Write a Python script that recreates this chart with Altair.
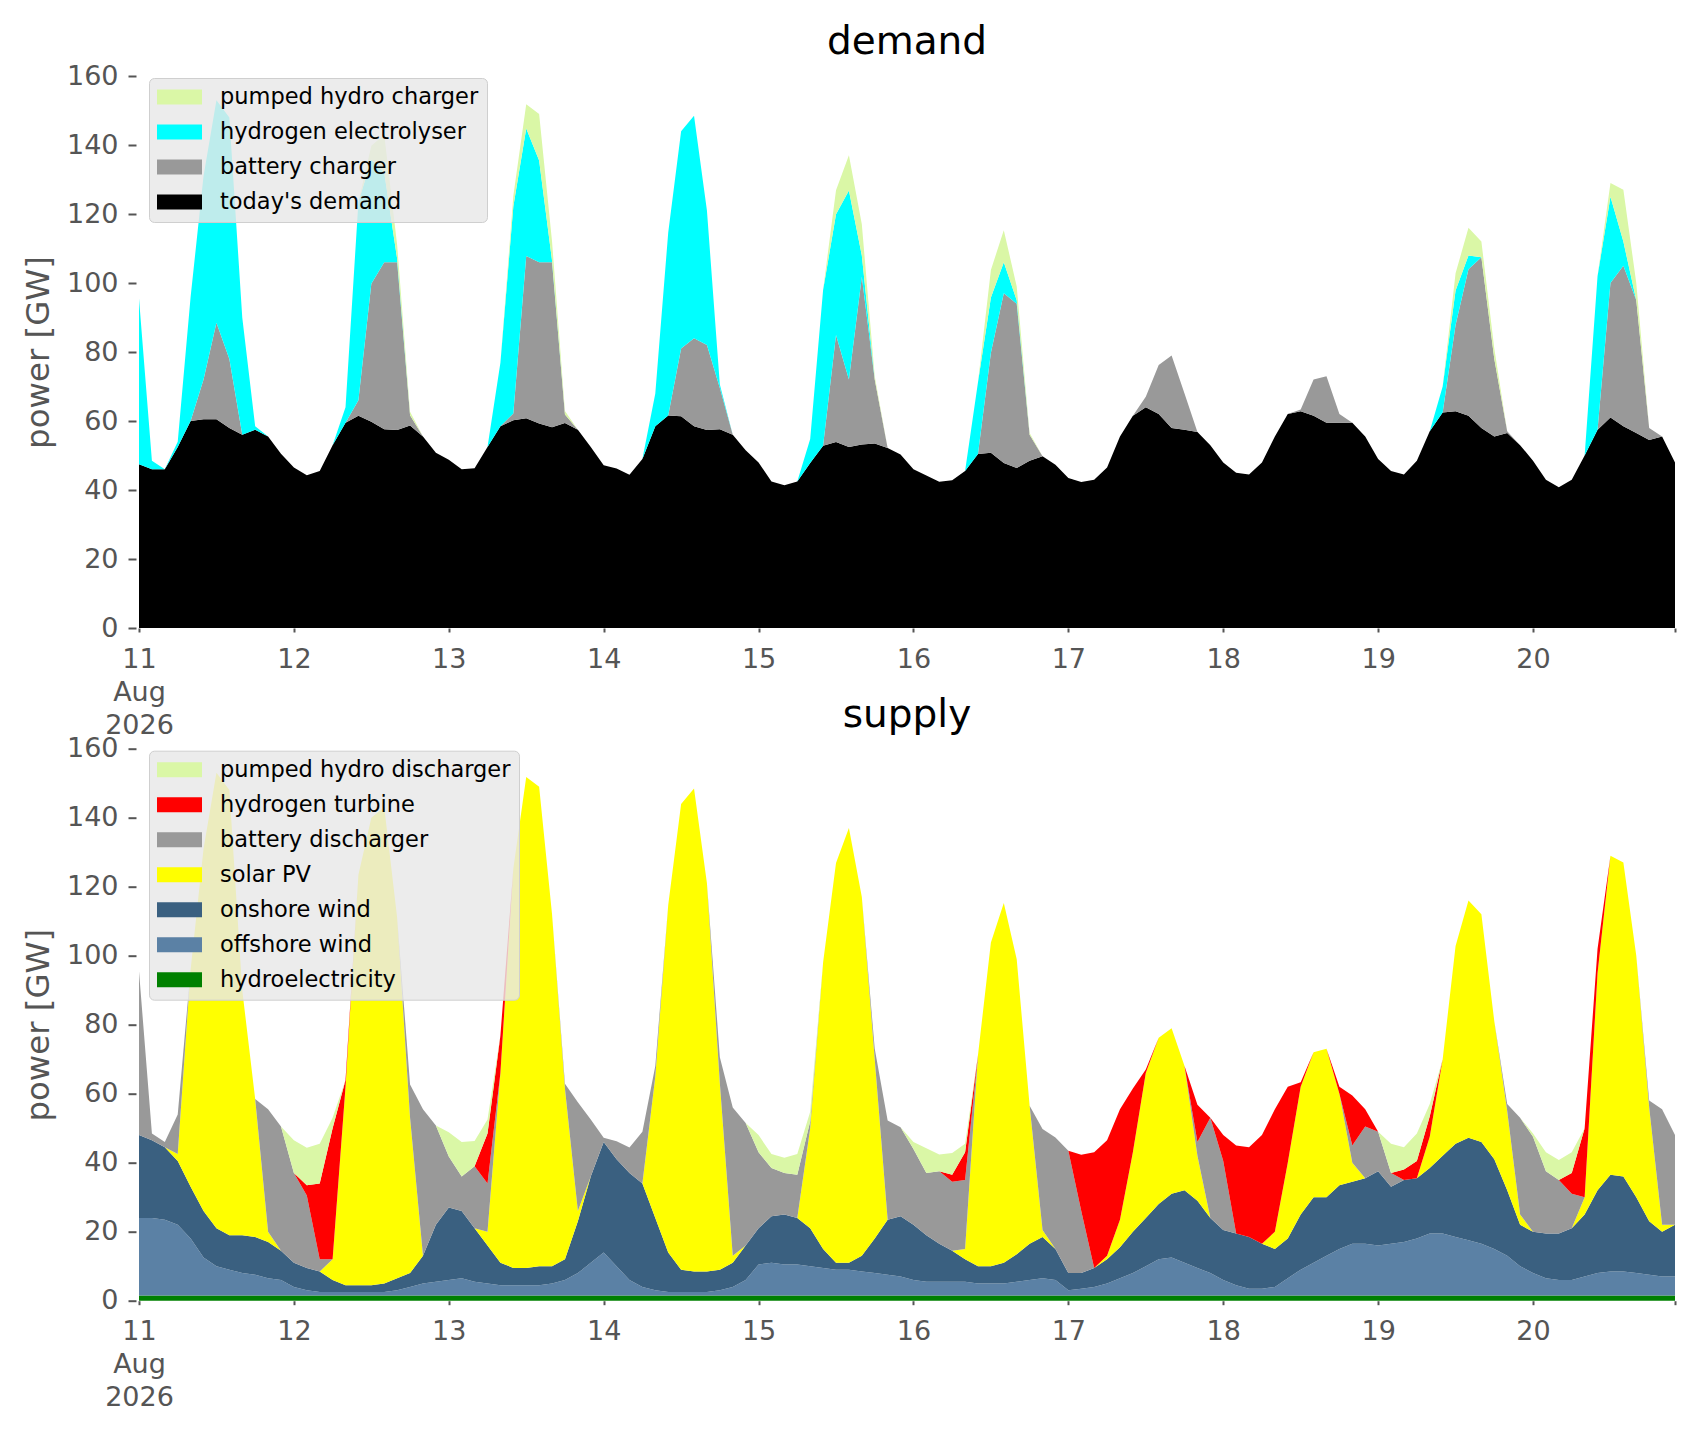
import json
import altair as alt
import pandas as pd

hours = list(range(0, 240, 2))  # hours since 11 Aug 2026 00:00, 2-hourly

day_labels = [["11", "Aug", "2026"], "12", "13", "14", "15", "16", "17", "18", "19", "20"]

# ---------------- demand side (GW), one row per day, 2-hourly ----------------
todays_demand = sum([
    [47.5, 46, 46, 52.5, 60, 60.5, 60.5, 58, 56, 57.5, 55.5, 50.5],
    [46.5, 44.3, 45.5, 53, 59.5, 61.5, 59.8, 57.6, 57.4, 58.7, 55.5, 50.8],
    [48.8, 46, 46.3, 52.5, 58.5, 60.2, 60.8, 59.3, 58.2, 59.4, 57.5, 52.5],
    [47.2, 46.2, 44.4, 49, 58.5, 61.6, 61.4, 58.5, 57.4, 57.6, 56, 51.5],
    [48, 42.5, 41.4, 42.5, 47.8, 52.8, 53.9, 52.5, 53.2, 53.5, 52.2, 50.3],
    [46, 44.2, 42.4, 42.8, 45.5, 50.4, 50.8, 47.8, 46.4, 48.5, 49.8, 47.3],
    [43.5, 42.3, 43, 46.5, 55.5, 61.5, 64, 62, 58, 57.5, 56.8, 53],
    [48, 45, 44.5, 48, 55.5, 62, 62.8, 61.5, 59.5, 59.5, 59.5, 55.5],
    [49, 45.5, 44.5, 48.5, 57, 62.5, 62.8, 61.5, 58, 55.5, 56.5, 53],
    [48.5, 43, 40.8, 43, 50, 57.5, 61, 58.5, 56.5, 54.5, 55.5, 48],
], [])

battery_charger = sum([
    [0, 0, 0, 0, 0, 11.5, 28, 20, 0, 0, 0, 0],
    [0, 0, 0, 0, 0, 4.5, 40, 48.4, 48.6, 3, 0, 0],
    [0, 0, 0, 0, 0, 2, 47, 46.7, 47.8, 2.5, 0, 0],
    [0, 0, 0, 0, 0, 0, 19.6, 25.5, 24.6, 12, 0, 0],
    [0, 0, 0, 0, 0, 0, 31, 19.5, 48.6, 18.5, 0, 0],
    [0, 0, 0, 0, 0, 0, 29, 49.2, 47.6, 7.5, 0, 0],
    [0, 0, 0, 0, 0, 0, 3, 14.2, 21, 10.5, 0, 0],
    [0, 0, 0, 0, 0, 0, 0.5, 10.5, 13.5, 2.5, 0, 0],
    [0, 0, 0, 0, 0, 0, 25, 42.5, 49.5, 22.5, 0.5, 0],
    [0, 0, 0, 0, 0, 0, 39, 46.5, 38.5, 3.5, 0, 0],
], [])

hydrogen_electrolyser = sum([
    [48, 2.5, 0, 1.5, 36, 59, 64.5, 70, 34, 1, 0, 0],
    [0, 0, 0, 0, 4.5, 57.5, 36, 26, 1, 0, 0, 0],
    [0, 0, 0, 0, 18.4, 60, 37, 29.5, 0.5, 0, 0, 0],
    [0, 0, 0, 0, 9.5, 53, 63, 64.5, 39, 1, 0, 0],
    [0, 0, 0, 0, 7, 45.2, 35, 54.8, 6.2, 0, 0, 0],
    [0, 0, 0, 0, 0, 20.8, 16, 9, 1, 0, 0, 0],
    [0, 0, 0, 0, 0, 0, 0, 0, 0, 0, 0, 0],
    [0, 0, 0, 0, 0, 0, 0, 0, 0, 0, 0, 0],
    [0, 0, 0, 0, 0, 7.5, 10, 4, 0, 0, 0, 0],
    [0, 0, 0, 0, 0, 44.5, 25, 7, 0, 0, 0, 0],
], [])

pumped_hydro_charger = sum([
    [0, 0, 0, 0, 0, 0, 0, 0, 0, 0, 0, 0],
    [0, 0, 0, 0, 0, 0, 4, 11, 4, 1, 0, 0],
    [0, 0, 0, 0, 0, 3, 7, 13.5, 5.5, 1, 0, 0],
    [0, 0, 0, 0, 0, 0, 0, 0, 0, 0, 0, 0],
    [0, 0, 0, 0, 0, 0, 7, 10.2, 9, 1, 0, 0],
    [0, 0, 0, 0, 0, 0, 8, 9.3, 4, 0.5, 0, 0],
    [0, 0, 0, 0, 0, 0, 0, 0, 0, 0, 0, 0],
    [0, 0, 0, 0, 0, 0, 0, 0, 0, 0, 0, 0],
    [0, 0, 0, 0, 0, 0, 5, 8, 4.5, 3, 0, 0],
    [0, 0, 0, 0, 0, 0, 4, 15, 5, 0, 0, 0],
], [])

# ---------------- supply side (GW) ----------------
hydroelectricity = [1.5] * 120

offshore_wind = sum([
    [22.5, 22.5, 22, 20.5, 16.5, 11, 8.5, 7.5, 6.5, 6, 5, 4.5],
    [2.5, 1.5, 1, 1, 1, 1, 1, 1, 1.5, 2.5, 3.5, 4],
    [4.5, 5, 4, 3.5, 3, 3, 3, 3, 3.5, 4.5, 6.5, 9.5],
    [12.5, 8.5, 4.5, 2.5, 1.5, 1, 1, 1, 1, 1.5, 2.5, 4.5],
    [9, 9.5, 9, 9, 8.5, 8, 7.5, 7.5, 7, 6.5, 6, 5.5],
    [4.5, 4, 4, 4, 4, 3.5, 3.5, 3.5, 4, 4.5, 5, 4.5],
    [1.5, 2, 2.5, 3.5, 5, 6.5, 8.5, 10.5, 11, 9.5, 8, 6.5],
    [4.5, 3, 2, 2, 2.5, 5, 7.5, 9.5, 11.5, 13.5, 15, 15],
    [14.5, 15, 15.5, 16.5, 18, 18, 17, 16, 15, 13.5, 11.5, 8.5],
    [6.5, 5, 4.5, 4.5, 5.5, 6.5, 7, 7, 6.5, 6, 5.5, 5.5],
], [])

onshore_wind = sum([
    [24, 22.5, 21, 18.5, 15, 13.5, 11, 10, 11, 11, 10.5, 8.5],
    [7, 6.5, 6, 3.5, 2, 2, 2, 2.5, 3.5, 4, 8, 16.5],
    [21, 19.5, 15.5, 11, 6.5, 5, 5, 5.5, 5, 6, 15, 25],
    [32, 31, 31, 30, 21, 11.5, 6.5, 6, 6, 6, 7, 10],
    [10.5, 13.5, 14.5, 13.5, 11, 5.5, 2, 2, 4.5, 10, 16, 17.5],
    [16, 13.5, 11, 9, 6.5, 5, 5, 6, 8, 10.5, 12, 9],
    [5, 4.5, 5.5, 7, 9, 12, 14, 16, 18.5, 21, 19.5, 16],
    [14.5, 15, 15, 13, 11, 11.5, 16, 19, 17, 18.5, 18, 19],
    [21.5, 16.5, 18, 17.5, 19, 22.5, 27, 29.7, 29.5, 26, 19, 12],
    [12, 13, 13.5, 15, 18, 24, 28, 27.5, 22, 15.5, 13, 15],
], [])

solar_pv = sum([
    [0, 0, 0, 2, 63, 105, 132, 129, 71, 40, 3, 0],
    [0, 0, 0, 6, 57.5, 119, 135.5, 138, 104.5, 45, 0, 0],
    [0, 0, 0, 4, 55, 115.7, 142.3, 139, 102, 49.5, 3, 0],
    [0, 0, 0, 0, 41, 100.6, 135, 140, 112.5, 54, 2, 0],
    [0, 0, 0, 0, 29, 83, 115.9, 126, 104, 52, 0, 0],
    [0, 0, 0, 0, 3, 61.2, 93.8, 104.3, 85.5, 40, 2, 0],
    [0, 0, 0, 1, 8, 23, 42, 48.2, 48, 36, 13, 0],
    [0, 0, 0, 0, 5, 22, 37, 42, 43, 26.5, 5.5, 0],
    [0, 0, 0, 0, 9, 28, 57.3, 68.8, 66, 40, 23, 3],
    [0, 0, 0, 0, 5, 63, 92.5, 91, 70, 33, 2, 0],
], [])

battery_discharger = sum([
    [47.5, 2, 1.5, 11.5, 0, 0, 0, 0, 0, 0, 35.5, 36],
    [26, 21, 3.5, 0, 0, 0, 0, 0, 0, 9.7, 42.5, 28.8],
    [14.8, 10, 18, 14, 0, 0, 0, 0, 0, 1.4, 31.5, 16.5],
    [1.2, 5.2, 7.4, 15, 3, 0, 0, 0, 0, 7.6, 43, 35.5],
    [22, 14, 12, 12.5, 2, 0, 0, 0, 0, 3, 28.7, 25.8],
    [22, 18, 21, 20, 20, 0, 0, 0, 0, 0, 29.3, 32.3],
    [35.5, 18, 0, 0, 0, 0, 0, 0, 0, 0, 4, 29],
    [20, 0, 0, 0, 0, 0, 0, 0, 0, 0, 5, 15],
    [11.5, 4, 0, 0, 0, 0, 0, 0, 0, 0, 2, 28],
    [27.5, 18, 15.5, 10, 0, 0, 0, 0, 0, 2, 33.5, 26],
], [])

hydrogen_turbine = sum([
    [0, 0, 0, 0, 0, 0, 0, 0, 0, 0, 0, 0],
    [0, 3, 22, 38, 2, 0, 0, 0, 0, 0, 0, 0],
    [0, 0, 0, 14.5, 10.9, 0, 0, 0, 0, 0, 0, 0],
    [0, 0, 0, 0, 0, 0, 0, 0, 0, 0, 0, 0],
    [0, 0, 0, 0, 0, 0, 0, 0, 0, 0, 0, 0],
    [0, 0, 0, 2, 8, 0, 0, 0, 0, 0, 0, 0],
    [0, 16.3, 33.5, 33.5, 32, 18.5, 1, 0, 0, 0, 10.8, 0],
    [7.5, 25.5, 26, 31.5, 35.5, 22, 1.3, 0, 0, 2, 14.5, 5],
    [0, 0, 3, 5, 6, 0, 0, 0, 0, 0, 0, 0],
    [0, 0, 0, 6, 20, 7, 0, 0, 0, 0, 0, 0],
], [])

pumped_hydro_discharger = sum([
    [0, 0, 0, 0, 0, 0, 0, 0, 0, 0, 0, 0],
    [9.5, 10.8, 11.5, 3, 0, 0, 0, 0, 0, 0, 0, 0],
    [7, 10, 7.3, 4, 0, 0, 0, 0, 0, 0, 0, 0],
    [0, 0, 0, 0, 0, 0, 0, 0, 0, 0, 0, 0],
    [5, 4, 4.4, 6, 2.8, 0, 0, 0, 0, 0, 0, 0],
    [2, 7.2, 4.9, 6.3, 2.5, 0, 0, 0, 0, 0, 0, 0],
    [0, 0, 0, 0, 0, 0, 0, 0, 0, 0, 0, 0],
    [0, 0, 0, 0, 0, 0, 0, 0, 0, 0, 0, 0],
    [0, 8.5, 6.5, 8, 3.5, 0, 0, 0, 0, 0, 0, 0],
    [1, 5.5, 5.8, 6, 0, 0, 0, 0, 0, 0, 0, 0],
], [])

# stacking order bottom -> top, with colours
demand_series = [
    ("today's demand", todays_demand, "#000000"),
    ("battery charger", battery_charger, "#999999"),
    ("hydrogen electrolyser", hydrogen_electrolyser, "#00ffff"),
    ("pumped hydro charger", pumped_hydro_charger, "#daf7a6"),
]
supply_series = [
    ("hydroelectricity", hydroelectricity, "#008000"),
    ("offshore wind", offshore_wind, "#5b81a5"),
    ("onshore wind", onshore_wind, "#3a6080"),
    ("solar PV", solar_pv, "#ffff00"),
    ("battery discharger", battery_discharger, "#999999"),
    ("hydrogen turbine", hydrogen_turbine, "#ff0000"),
    ("pumped hydro discharger", pumped_hydro_discharger, "#daf7a6"),
]

FONT = "DejaVu Sans"
GREY = "#555555"
W, H = 1536, 552
XMAX = hours[-1]

label_expr = (
    "datum.value % 24 != 0 ? '' : "
    + json.dumps(day_labels)
    + "[floor(datum.value / 24)]"
)


def panel(series, title):
    rows = []
    for rank, (name, vals, _) in enumerate(series):
        for h, v in zip(hours, vals):
            rows.append({"hour": h, "series": name, "value": v, "rank": rank})
    df = pd.DataFrame(rows)
    legend_order = [s[0] for s in series][::-1]
    legend_colors = [s[2] for s in series][::-1]
    return (
        alt.Chart(df)
        .mark_area(interpolate="linear")
        .encode(
            x=alt.X(
                "hour:Q",
                scale=alt.Scale(domain=[0, XMAX], nice=False, zero=False),
                axis=alt.Axis(
                    values=list(range(0, 217, 24)) + [XMAX],
                    labelExpr=label_expr,
                    labelFontSize=27,
                    labelFont=FONT,
                    labelColor=GREY,
                    labelLineHeight=33,
                    labelFlush=False,
                    labelOverlap=False,
                    labelPadding=14,
                    tickSize=4,
                    tickWidth=2,
                    tickColor=GREY,
                    domain=False,
                    grid=False,
                    title=None,
                ),
            ),
            y=alt.Y(
                "value:Q",
                stack="zero",
                scale=alt.Scale(domain=[0, 160], nice=False),
                axis=alt.Axis(
                    values=list(range(0, 161, 20)),
                    title="power [GW]",
                    titleFont=FONT,
                    titleFontSize=32.4,
                    titleFontWeight="normal",
                    titleColor=GREY,
                    titlePadding=11,
                    labelFont=FONT,
                    labelFontSize=27,
                    labelColor=GREY,
                    labelPadding=10,
                    tickSize=8,
                    tickWidth=2,
                    tickColor=GREY,
                    offset=3,
                    domain=False,
                    grid=False,
                ),
            ),
            color=alt.Color(
                "series:N",
                scale=alt.Scale(domain=legend_order, range=legend_colors),
                legend=alt.Legend(
                    title=None,
                    orient="none",
                    legendX=10,
                    legendY=2,
                    symbolType="M-1,-0.333L1,-0.333L1,0.333L-1,0.333Z",
                    symbolSize=2025,
                    symbolStrokeWidth=0,
                    symbolOpacity=1,
                    clipHeight=22,
                    labelFont=FONT,
                    labelFontSize=22.5,
                    labelColor="black",
                    labelLimit=600,
                    labelOffset=18,
                    rowPadding=12,
                    padding=8,
                    fillColor="rgba(232,232,232,0.82)",
                    strokeColor="#cfcfcf",
                    cornerRadius=5,
                ),
            ),
            order=alt.Order("rank:Q", sort="ascending"),
        )
        .properties(
            width=W,
            height=H,
            title=alt.TitleParams(
                title,
                font=FONT,
                fontSize=39,
                fontWeight="normal",
                color="black",
                anchor="middle",
                frame="group",
                offset=0,
            ),
        )
    )


top = panel(demand_series, "demand")
bottom = panel(supply_series, "supply")

chart = (
    alt.vconcat(top, bottom, spacing=120.7, bounds="flush")
    .resolve_scale(color="independent")
    .properties(padding={"left": 14, "top": 15, "right": 10, "bottom": 5}, background="white")
    .configure_view(stroke=None)
)

chart.save("out.html", embed_options={"renderer": "svg", "actions": False})
